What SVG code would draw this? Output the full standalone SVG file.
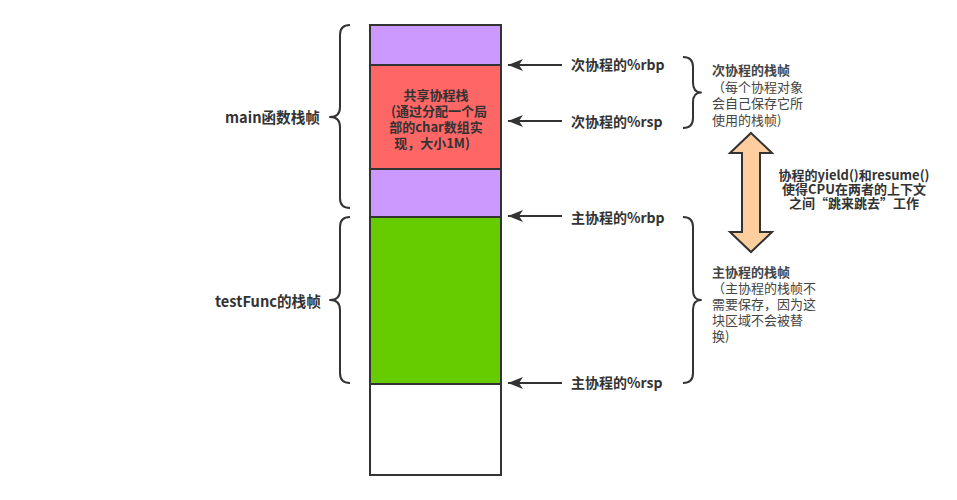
<svg xmlns="http://www.w3.org/2000/svg" width="957" height="500" viewBox="0 0 957 500">
<style>
.blk{stroke:#333;stroke-width:2}
.brace{fill:none;stroke:#333;stroke-width:2;stroke-linejoin:round}
.lbl{font-family:"Noto Sans CJK SC","Liberation Sans",sans-serif;font-weight:bold;font-size:14px;fill:#333}
.big{font-size:14.6px}
.in{font-family:"Noto Sans CJK SC","Liberation Sans",sans-serif;font-weight:bold;font-size:13px;fill:#333;text-anchor:middle}
.desc{font-family:"Noto Sans CJK SC","Liberation Sans",sans-serif;font-size:13px;fill:#444}
.ptr{stroke:#333;stroke-width:2;fill:none;marker-end:url(#ah)}
</style>
<defs>
<marker id="ah" markerUnits="userSpaceOnUse" markerWidth="16" markerHeight="12" refX="15" refY="6" orient="auto">
<path d="M0,0 L15,6 L0,12 L4,6 Z" fill="#333"/>
</marker>
</defs>
<rect width="957" height="500" fill="#fff"/>
<g id="stack">
<rect id="purple-top" class="blk" x="370" y="25" width="131" height="40" fill="#CC99FF"/>
<g id="shared-stack">
<rect class="blk" x="370" y="65" width="131" height="104" fill="#FF6666"/>
<text class="in" x="436" y="100">共享协程栈</text>
<text class="in" x="439" y="116"> (通过分配一个局</text>
<text class="in" x="436" y="132">部的char数组实</text>
<text class="in" x="432" y="148">现，大小1M)</text>
</g>
<rect id="purple-bottom" class="blk" x="370" y="169" width="131" height="48" fill="#CC99FF"/>
<rect id="testfunc-frame" class="blk" x="370" y="217" width="131" height="167" fill="#66CC00"/>
<rect id="free" class="blk" x="370" y="384" width="131" height="91" fill="#FFFFFF"/>
</g>
<g id="main-label">
<path class="brace" d="M350,25 Q340,25 340,35 L340,107 Q340,117 330,117 Q340,117 340,127 L340,198 Q340,208 350,208"/>
<text class="lbl big" x="225" y="123">main函数栈帧</text>
</g>
<g id="testfunc-label">
<path class="brace" d="M350,217 Q340,217 340,227 L340,290 Q340,300 330,300 Q340,300 340,310 L340,373 Q340,383 350,383"/>
<text class="lbl big" x="215" y="307">testFunc的栈帧</text>
</g>
<g id="connectors">
<line class="ptr" x1="562" y1="65" x2="508" y2="65"/>
<line class="ptr" x1="562" y1="121" x2="508" y2="121"/>
<line class="ptr" x1="562" y1="216" x2="508" y2="216"/>
<line class="ptr" x1="562" y1="383" x2="508" y2="383"/>
</g>
<g id="pointer-labels">
<text class="lbl" x="571" y="70">次协程的%rbp</text>
<text class="lbl" x="571" y="127">次协程的%rsp</text>
<text class="lbl" x="571" y="223">主协程的%rbp</text>
<text class="lbl" x="571" y="388">主协程的%rsp</text>
</g>
<g id="co-frame">
<path class="brace" d="M683,57 Q693,57 693,67 L693,82.5 Q693,92.5 701,92.5 Q693,92.5 693,102.5 L693,118 Q693,128 683,128"/>
<text class="desc" x="712" y="75" font-weight="bold" fill="#333">次协程的栈帧</text>
<text class="desc" x="712" y="91.5">（每个协程对象</text>
<text class="desc" x="712" y="108">会自己保存它所</text>
<text class="desc" x="712" y="124.5">使用的栈帧)</text>
</g>
<g id="main-frame">
<path class="brace" d="M683,217 Q693,217 693,227 L693,290 Q693,300 701,300 Q693,300 693,310 L693,373 Q693,383 683,383"/>
<text class="desc" x="712" y="276.5" font-weight="bold" fill="#333">主协程的栈帧</text>
<text class="desc" x="712" y="292.5">（主协程的栈帧不</text>
<text class="desc" x="712" y="308.5">需要保存，因为这</text>
<text class="desc" x="712" y="324.5">块区域不会被替</text>
<text class="desc" x="712" y="340.5">换)</text>
</g>
<g id="switch">
<polygon points="751,133 772,153 760,153 760,232 772,232 751,252 730,232 742,232 742,153 730,153" fill="#FFCE9F" stroke="#333" stroke-width="2" stroke-linejoin="miter"/>
<text class="in" x="854" y="179.5">协程的yield()和resume()</text>
<text class="in" x="854" y="194">使得CPU在两者的上下文</text>
<text class="in" x="854" y="208">之间“跳来跳去”工作</text>
</g>
</svg>
